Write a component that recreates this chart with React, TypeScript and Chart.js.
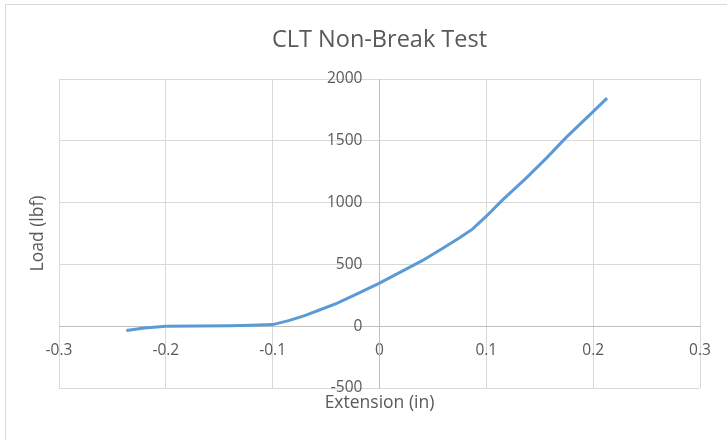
import React, { useEffect, useRef } from "react";
import { Chart, registerables } from "chart.js";

Chart.register(...registerables);

const chartTitle = "CLT Non-Break Test";
const xAxisTitle = "Extension (in)";
const yAxisTitle = "Load (lbf)";

const extension = [-0.237, -0.22, -0.2, -0.17, -0.14, -0.12, -0.1, -0.085, -0.07, -0.055, -0.04, -0.02, 0, 0.02, 0.04, 0.06, 0.075, 0.087, 0.1, 0.115, 0.137, 0.156, 0.175, 0.2, 0.213];
const load = [-35, -15, 0, 2, 4, 8, 13, 45, 85, 135, 185, 265, 348, 440, 530, 635, 715, 785, 890, 1020, 1196, 1358, 1530, 1736, 1845];

const xMin = -0.3;
const xMax = 0.3;
const xStep = 0.1;
const yMin = -500;
const yMax = 2000;
const yStep = 500;
// the y tick labels sit a little left of the vertical axis (x = 0)
const yLabelAnchorX = -0.016;

const TEXT = "#595959";
const GRID = "#d9d9d9";
const FONT = "'Open Sans', 'DejaVu Sans', sans-serif";

const axisTitlePlugin = {
  id: "axisTitles",
  afterDraw(chart: any) {
    const { ctx, chartArea } = chart;
    ctx.save();
    ctx.fillStyle = TEXT;
    ctx.font = `17.5px ${FONT}`;
    ctx.textAlign = "center";
    ctx.textBaseline = "middle";
    ctx.fillText(xAxisTitle, (chartArea.left + chartArea.right) / 2, chartArea.bottom + 15);
    ctx.translate(chartArea.left - 20.5, (chartArea.top + chartArea.bottom) / 2);
    ctx.rotate(-Math.PI / 2);
    ctx.fillText(yAxisTitle, 0, 0);
    ctx.restore();
  },
};

export default function App() {
  const canvasRef = useRef<HTMLCanvasElement | null>(null);

  useEffect(() => {
    if (!canvasRef.current) return;
    const chart = new Chart(canvasRef.current, {
      type: "scatter",
      data: {
        datasets: [
          {
            data: extension.map((x, i) => ({ x, y: load[i] })),
            showLine: true,
            borderColor: "#5b9bd5",
            backgroundColor: "#5b9bd5",
            borderWidth: 3,
            pointRadius: 0,
            tension: 0,
          },
        ],
      },
      options: {
        animation: false,
        responsive: false,
        maintainAspectRatio: false,
        layout: { padding: { left: 59, right: 27, top: 0, bottom: 52 } },
        plugins: {
          legend: { display: false },
          tooltip: { enabled: false },
          title: {
            display: true,
            text: chartTitle,
            color: TEXT,
            font: { family: FONT, size: 23.5, weight: "normal" },
            padding: { top: 25.9, bottom: 24.9 },
          },
        },
        scales: {
          x: {
            type: "linear",
            min: xMin,
            max: xMax,
            position: { y: 0 },
            grid: { color: GRID, lineWidth: 1, drawTicks: false },
            border: { color: "#bfbfbf", width: 1 },
            ticks: {
              stepSize: xStep,
              color: TEXT,
              font: { family: FONT, size: 15.5 },
              padding: 15,
              maxRotation: 0,
              callback: (v: any) => String(Math.round(Number(v) * 10) / 10),
            },
          },
          y: {
            type: "linear",
            min: yMin,
            max: yMax,
            position: { x: 0 },
            grid: { color: GRID, lineWidth: 1, drawTicks: false },
            border: { color: "#bfbfbf", width: 1 },
            ticks: { stepSize: yStep, display: false },
          },
          yLabels: {
            type: "linear",
            axis: "y",
            min: yMin,
            max: yMax,
            position: { x: yLabelAnchorX },
            grid: { display: false, drawTicks: false },
            border: { display: false },
            ticks: {
              stepSize: yStep,
              color: TEXT,
              font: { family: FONT, size: 15.5 },
              padding: 0,
              callback: (v: any) => String(Math.round(Number(v))),
            },
          },
        },
      },
      plugins: [axisTitlePlugin],
    });
    return () => chart.destroy();
  }, []);

  return (
    <div style={{ position: "absolute", left: 0, top: 0, width: 727, height: 440, background: "#fff", overflow: "hidden" }}>
      <div
        style={{
          position: "absolute",
          left: 5,
          top: 4,
          width: 760,
          height: 480,
          borderLeft: `1px solid ${GRID}`,
          borderTop: `1px solid ${GRID}`,
        }}
      />
      <canvas ref={canvasRef} width={727} height={440} style={{ position: "absolute", left: 0, top: 0, width: 727, height: 440 }} />
    </div>
  );
}
